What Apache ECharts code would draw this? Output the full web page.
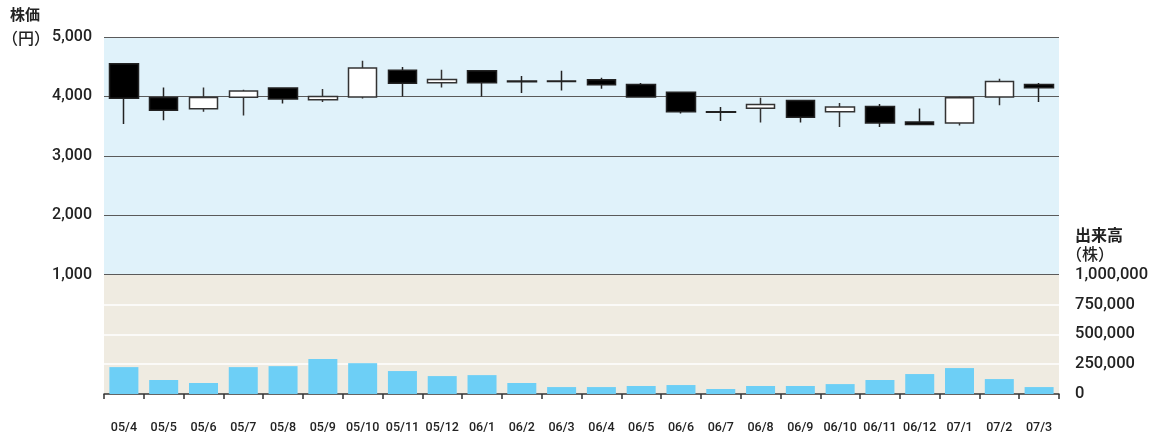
<!DOCTYPE html>
<html>
<head>
<meta charset="utf-8">
<script src="https://cdn.jsdelivr.net/npm/echarts@6/dist/echarts.min.js"></script>
<style>
  html, body { margin: 0; padding: 0; background: #fff; }
  #chart { width: 1152px; height: 435px; }
</style>
</head>
<body>
<div id="chart"></div>
<script>
// Monthly share price (candles) and trading volume
const categories = ['05/4','05/5','05/6','05/7','05/8','05/9','05/10','05/11','05/12',
  '06/1','06/2','06/3','06/4','06/5','06/6','06/7','06/8','06/9','06/10','06/11','06/12',
  '07/1','07/2','07/3'];

const opens  = [4550, 3980, 3790, 3985, 4140, 3945, 3990, 4440, 4230, 4430, 4258, 4258,
                4280, 4200, 4070, 3740, 3800, 3930, 3740, 3830, 3570, 3550, 3990, 4200];
const closes = [3970, 3765, 3980, 4090, 3955, 4000, 4480, 4220, 4285, 4230, 4248, 4250,
                4195, 3990, 3740, 3732, 3865, 3650, 3820, 3550, 3525, 3975, 4250, 4145];
const lows   = [3535, 3600, 3740, 3680, 3880, 3905, 3965, 4000, 4150, 4000, 4057, 4100,
                4130, 3975, 3710, 3585, 3560, 3560, 3485, 3485, 3525, 3510, 3850, 3905];
const highs  = [4550, 4150, 4150, 4110, 4140, 4125, 4600, 4495, 4450, 4430, 4343, 4430,
                4315, 4225, 4070, 3820, 3975, 3930, 3890, 3870, 3795, 3995, 4295, 4225];

const volumes = [225000, 117000, 92000, 225000, 233000, 292000, 258000, 192000, 150000,
                 158000, 92000, 58000, 58000, 67000, 75000, 42000, 67000, 67000, 83000,
                 117000, 167000, 217000, 125000, 58000];

const priceTicks = { min: 1000, max: 5000, step: 1000 };
const volumeTicks = { min: 0, max: 1000000, step: 250000 };

const fmt = v => Number(v).toLocaleString('en-US');
const FONT = "Roboto, 'Liberation Sans', Arial, sans-serif";
const CJK = "'Noto Sans CJK JP', sans-serif";

const chart = echarts.init(document.getElementById('chart'), null, { renderer: 'canvas' });

chart.setOption({
  animation: false,
  backgroundColor: '#fff',
  grid: [
    { left: 104, right: 93, top: 37, height: 237.5, show: true,
      backgroundColor: '#e0f2fa', borderWidth: 0 },
    { left: 104, right: 93, top: 274.5, height: 119.5, show: true,
      backgroundColor: '#efebe1', borderWidth: 0 }
  ],
  xAxis: [
    { type: 'category', gridIndex: 0, data: categories, boundaryGap: true,
      axisLine: { show: false }, axisTick: { show: false }, axisLabel: { show: false } },
    { type: 'category', gridIndex: 1, data: categories, boundaryGap: true, offset: 9,
      axisLine: { show: true, lineStyle: { color: '#333', width: 1.5 } },
      axisTick: { show: true, length: 5, lineStyle: { color: '#333', width: 1.5 } },
      axisLabel: { color: '#222', fontSize: 12.5, fontWeight: 500, fontFamily: FONT,
                   margin: 18, interval: 0 } }
  ],
  yAxis: [
    { type: 'value', gridIndex: 0, position: 'left',
      min: priceTicks.min, max: priceTicks.max, interval: priceTicks.step,
      axisLine: { show: false }, axisTick: { show: false },
      axisLabel: { formatter: fmt, color: '#222', fontSize: 16, fontWeight: 500,
                   fontFamily: FONT, margin: 12 },
      splitLine: { show: true, lineStyle: { color: '#5a5a5a', width: 1.2 } } },
    { type: 'value', gridIndex: 1, position: 'right',
      min: volumeTicks.min, max: volumeTicks.max, interval: volumeTicks.step,
      axisLine: { show: false }, axisTick: { show: false },
      axisLabel: { formatter: fmt, color: '#222', fontSize: 16.5, fontWeight: 500,
                   fontFamily: FONT, margin: 16, showMaxLabel: true },
      splitLine: { show: true, showMaxLine: false, showMinLine: false,
                   lineStyle: { color: '#ffffff', width: 1.5 } } }
  ],
  series: [
    { type: 'candlestick', xAxisIndex: 0, yAxisIndex: 0, barWidth: 29,
      data: categories.map((_, i) => [opens[i], closes[i], lows[i], highs[i]]),
      itemStyle: { color: '#ffffff', color0: '#000000',
                   borderColor: '#333333', borderColor0: '#222222', borderWidth: 1.5 } },
    { type: 'bar', xAxisIndex: 1, yAxisIndex: 1, barWidth: 29,
      data: volumes, itemStyle: { color: '#6dcff6' } }
  ],
  graphic: [
    { type: 'text', left: 10, top: 7,
      style: { text: '株価', font: `bold 15px ${CJK}`, fill: '#222' } },
    { type: 'text', left: 2, top: 30,
      style: { text: '（円）', font: `500 16px ${CJK}`, fill: '#222' } },
    { type: 'text', left: 1075, top: 227,
      style: { text: '出来高', font: `bold 16px ${CJK}`, fill: '#222' } },
    { type: 'text', left: 1066, top: 246,
      style: { text: '（株）', font: `500 16px ${CJK}`, fill: '#222' } }
  ]
});
</script>
</body>
</html>
